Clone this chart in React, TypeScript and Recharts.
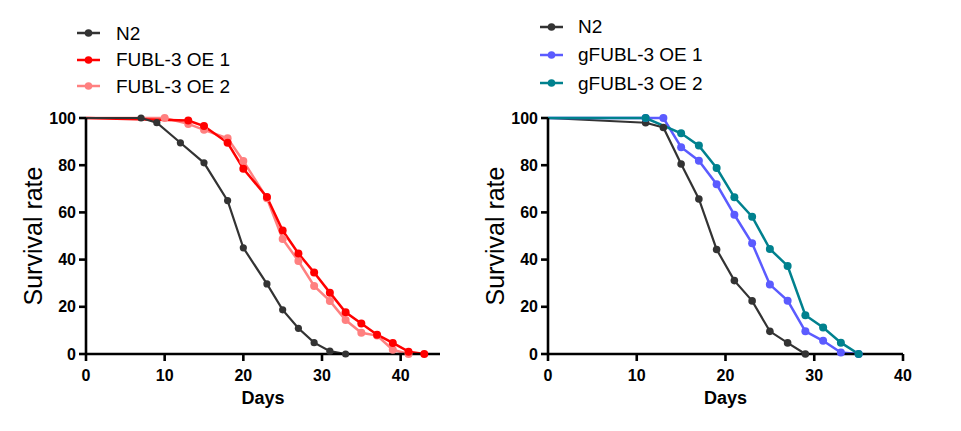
import React from 'react';
import { LineChart, Line, XAxis, YAxis, Legend } from 'recharts';

const FONT = '"Liberation Sans", Arial, Helvetica, sans-serif';

// Left panel
const leftN2Days = [0, 7, 9, 12, 15, 18, 20, 23, 25, 27, 29, 31, 33];
const leftN2Vals = [100, 100, 98, 89.5, 81, 65, 45, 29.7, 18.7, 10.9, 4.8, 1.2, 0];
const oe1Days = [0, 13, 15, 18, 20, 23, 25, 27, 29, 31, 33, 35, 37, 39, 41, 43];
const oe1Vals = [100, 98.9, 96.6, 89.5, 78.5, 66.5, 52.3, 42.6, 34.5, 26, 17.7, 12.9, 8.2, 4.7, 1, 0];
const oe2Days = [0, 10, 13, 15, 18, 20, 23, 25, 27, 29, 31, 33, 35, 37, 39, 41];
const oe2Vals = [100, 100, 97.5, 95, 91.4, 81.8, 66, 48.7, 39.4, 28.8, 22.5, 14.4, 9, 7.8, 1.8, 0];

// Right panel
const rightN2Days = [0, 11, 13, 15, 17, 19, 21, 23, 25, 27, 29];
const rightN2Vals = [100, 98, 96, 80.5, 65.7, 44.3, 31.1, 22.5, 9.6, 4.7, 0];
const gOe1Days = [0, 11, 13, 15, 17, 19, 21, 23, 25, 27, 29, 31, 33, 35];
const gOe1Vals = [100, 100, 100, 87.6, 81.9, 71.9, 59, 46.9, 29.4, 22.6, 9.6, 5.6, 0.6, 0];
const gOe2Days = [0, 11, 15, 17, 19, 21, 23, 25, 27, 29, 31, 33, 35];
const gOe2Vals = [100, 100, 93.5, 88.3, 78.8, 66.4, 58.2, 44.5, 37.3, 16.4, 11.2, 4.8, 0];

const yTicks = [0, 20, 40, 60, 80, 100];
const xTicks = [0, 10, 20, 30, 40];

const leftNames = ['N2', 'FUBL-3 OE 1', 'FUBL-3 OE 2'];
const leftColors = ['#333333', '#ff0000', '#ff8080'];
const rightNames = ['N2', 'gFUBL-3 OE 1', 'gFUBL-3 OE 2'];
const rightColors = ['#333333', '#5b5bff', '#00818e'];

const toRows = (days: number[], vals: number[]) => days.map((d, i) => ({ day: d, v: vals[i] }));

const makeDot = (color: string, r: number) => (props: any) => {
  const { cx, cy, payload, index } = props;
  if (payload.day === 0) return <g key={`d${index}`} />;
  return <circle key={`d${index}`} cx={cx} cy={cy} r={r} fill={color} stroke="none" />;
};

const YLabel = (props: any) => {
  const vb = props.viewBox || {};
  const x = vb.x + vb.width - 44;
  const y = vb.y + vb.height / 2;
  return (
    <text x={x} y={y} transform={`rotate(-90 ${x} ${y})`} textAnchor="middle" fontFamily={FONT} fontSize={25} fill="#000">
      Survival rate
    </text>
  );
};

const XLabel = (props: any) => {
  const vb = props.viewBox || {};
  const x = vb.x + vb.width / 2;
  const y = vb.y + 50;
  return (
    <text x={x} y={y} textAnchor="middle" fontFamily={FONT} fontSize={18} fontWeight="bold" fill="#000">
      Days
    </text>
  );
};

const makeLegend = (names: string[], colors: string[], rowH: number, gap: number) => () => (
  <div style={{ fontFamily: FONT, fontSize: 19, color: '#000', lineHeight: 1 }}>
    {names.map((n, i) => (
      <div key={n} style={{ display: 'flex', alignItems: 'center', height: rowH, whiteSpace: 'nowrap' }}>
        <svg width={23} height={10} style={{ display: 'block' }}>
          <line x1={0} y1={5} x2={23} y2={5} stroke={colors[i]} strokeWidth={2.5} />
          <circle cx={11.5} cy={5} r={3.8} fill={colors[i]} />
        </svg>
        <span style={{ marginLeft: gap }}>{n}</span>
      </div>
    ))}
  </div>
);

const tickStyle = { fill: '#000', fontSize: 16, fontWeight: 'bold', fontFamily: FONT };
const axisStroke = { stroke: '#000', strokeWidth: 2.6 };

export default function App() {
  return (
    <div style={{ position: 'absolute', left: 0, top: 0, width: 961, height: 431, background: '#fff' }}>
      <div style={{ position: 'absolute', left: 0, top: 0 }}>
        <LineChart width={480} height={431} margin={{ top: 118, right: 40, bottom: 0, left: 0 }}>
          <XAxis
            type="number"
            dataKey="day"
            domain={[0, 45]}
            ticks={xTicks}
            height={77}
            tick={tickStyle}
            tickSize={7}
            tickMargin={9}
            axisLine={axisStroke}
            tickLine={axisStroke}
            allowDuplicatedCategory={false}
            label={<XLabel />}
          />
          <YAxis
            type="number"
            domain={[0, 100]}
            ticks={yTicks}
            width={86}
            tick={tickStyle}
            tickSize={7}
            tickMargin={3}
            axisLine={axisStroke}
            tickLine={axisStroke}
            label={<YLabel />}
          />
          <Legend
            layout="vertical"
            align="center"
            verticalAlign="middle"
            wrapperStyle={{ top: 20, left: 77, width: 'auto' }}
            content={makeLegend(leftNames, leftColors, 26.5, 16)}
          />
          <Line data={toRows(oe2Days, oe2Vals)} dataKey="v" name={leftNames[2]} type="linear" stroke={leftColors[2]} strokeWidth={2.5} dot={makeDot(leftColors[2], 4)} activeDot={false} isAnimationActive={false} />
          <Line data={toRows(oe1Days, oe1Vals)} dataKey="v" name={leftNames[1]} type="linear" stroke={leftColors[1]} strokeWidth={2.5} dot={makeDot(leftColors[1], 4)} activeDot={false} isAnimationActive={false} />
          <Line data={toRows(leftN2Days, leftN2Vals)} dataKey="v" name={leftNames[0]} type="linear" stroke={leftColors[0]} strokeWidth={2.2} dot={makeDot(leftColors[0], 3.6)} activeDot={false} isAnimationActive={false} />
        </LineChart>
      </div>
      <div style={{ position: 'absolute', left: 480, top: 0 }}>
        <LineChart width={481} height={431} margin={{ top: 118, right: 58, bottom: 0, left: 0 }}>
          <XAxis
            type="number"
            dataKey="day"
            domain={[0, 40]}
            ticks={xTicks}
            height={77}
            tick={tickStyle}
            tickSize={7}
            tickMargin={9}
            axisLine={axisStroke}
            tickLine={axisStroke}
            allowDuplicatedCategory={false}
            label={<XLabel />}
          />
          <YAxis
            type="number"
            domain={[0, 100]}
            ticks={yTicks}
            width={68}
            tick={tickStyle}
            tickSize={7}
            tickMargin={3}
            axisLine={axisStroke}
            tickLine={axisStroke}
            label={<YLabel />}
          />
          <Legend
            layout="vertical"
            align="center"
            verticalAlign="middle"
            wrapperStyle={{ top: 12.5, left: 60, width: 'auto' }}
            content={makeLegend(rightNames, rightColors, 28.3, 15)}
          />
          <Line data={toRows(rightN2Days, rightN2Vals)} dataKey="v" name={rightNames[0]} type="linear" stroke={rightColors[0]} strokeWidth={2.2} dot={makeDot(rightColors[0], 3.8)} activeDot={false} isAnimationActive={false} />
          <Line data={toRows(gOe1Days, gOe1Vals)} dataKey="v" name={rightNames[1]} type="linear" stroke={rightColors[1]} strokeWidth={2.5} dot={makeDot(rightColors[1], 4)} activeDot={false} isAnimationActive={false} />
          <Line data={toRows(gOe2Days, gOe2Vals)} dataKey="v" name={rightNames[2]} type="linear" stroke={rightColors[2]} strokeWidth={2.5} dot={makeDot(rightColors[2], 4)} activeDot={false} isAnimationActive={false} />
        </LineChart>
      </div>
    </div>
  );
}
